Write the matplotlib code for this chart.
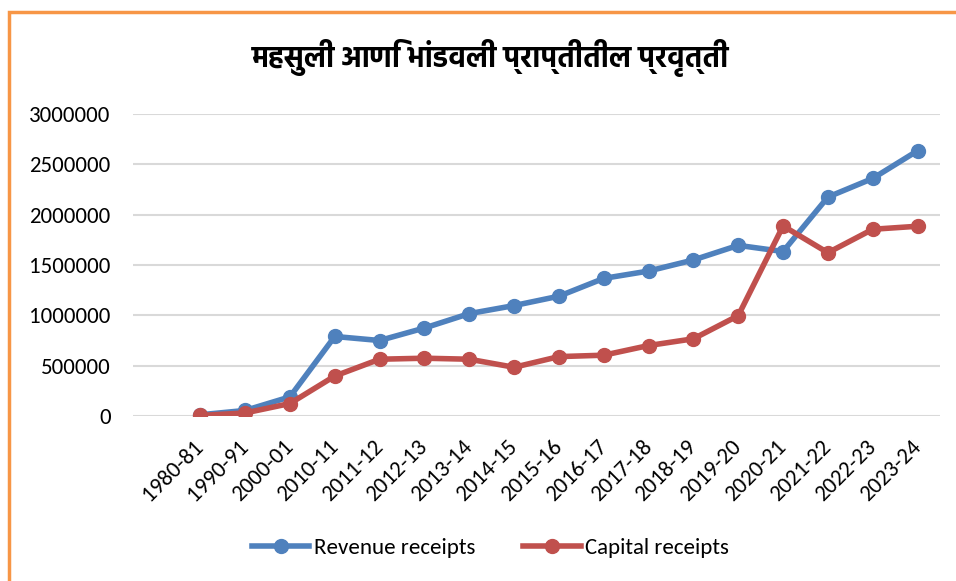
import matplotlib
matplotlib.use("Agg")
import matplotlib.pyplot as plt
from matplotlib.patches import Rectangle
import numpy as np

years = ["1980-81", "1990-91", "2000-01", "2010-11", "2011-12", "2012-13",
         "2013-14", "2014-15", "2015-16", "2016-17", "2017-18", "2018-19",
         "2019-20", "2020-21", "2021-22", "2022-23", "2023-24"]
revenue = [12000, 55000, 190000, 790000, 750000, 874000, 1017000, 1097000,
           1190000, 1367000, 1440000, 1550000, 1695000, 1634000, 2175000,
           2360000, 2635000]
capital = [5000, 30000, 124000, 397000, 564000, 574000, 564000, 484000,
           590000, 604000, 700000, 767000, 997000, 1888000, 1622000,
           1855000, 1885000]
title = "महसुली आणि भांडवली प्राप्तीतील प्रवृत्ती"

plt.rcParams['font.family'] = ['Carlito', 'Lato', 'DejaVu Sans']

fig = plt.figure(figsize=(9.56, 5.81), dpi=100)
ax = fig.add_axes([133/956, 1-416/581, (940-133)/956, (416-114)/581])

x = np.arange(1, len(years)+1)
ax.plot(x, revenue, color='#4F81BD', lw=4, marker='o', ms=10, label='Revenue receipts')
ax.plot(x, capital, color='#C0504D', lw=4, marker='o', ms=10, label='Capital receipts')

ax.set_xlim(-0.5, len(years)+0.5)
ax.set_ylim(0, 3000000)
ax.set_yticks(np.arange(0, 3000001, 500000))
ax.yaxis.set_major_formatter(matplotlib.ticker.FuncFormatter(lambda v, p: f"{int(v)}"))
ax.set_xticks(x)
ax.set_xticklabels(years, rotation=45, ha='right', rotation_mode='anchor', va='center')
ax.tick_params(axis='both', length=0, labelsize=16.5, colors='black')
ax.tick_params(axis='x', pad=20)
ax.tick_params(axis='y', pad=16)
ax.grid(axis='y', color='#D9D9D9', lw=1.5)
ax.set_axisbelow(True)
for s in ax.spines.values():
    s.set_visible(False)

fig.text(0.513, 1-58/581, title, ha='center', va='center', fontsize=21, fontweight='bold',
         family=['Hind', 'Noto Sans Devanagari', 'Mukta', 'DejaVu Sans'])
fig.legend(loc='center', bbox_to_anchor=(0.513, 1-548/581), ncol=2, frameon=False,
           fontsize=16.5, handlelength=2.5, handletextpad=0.2, columnspacing=2.1)

# orange frame, only left and top edges fall inside the picture
fig.patches.append(Rectangle((9/956, -0.05), 1.2, 1-12/581+0.05, transform=fig.transFigure,
                             fill=False, ec='#F79646', lw=2.5))

fig.savefig("out.png", dpi=100)
